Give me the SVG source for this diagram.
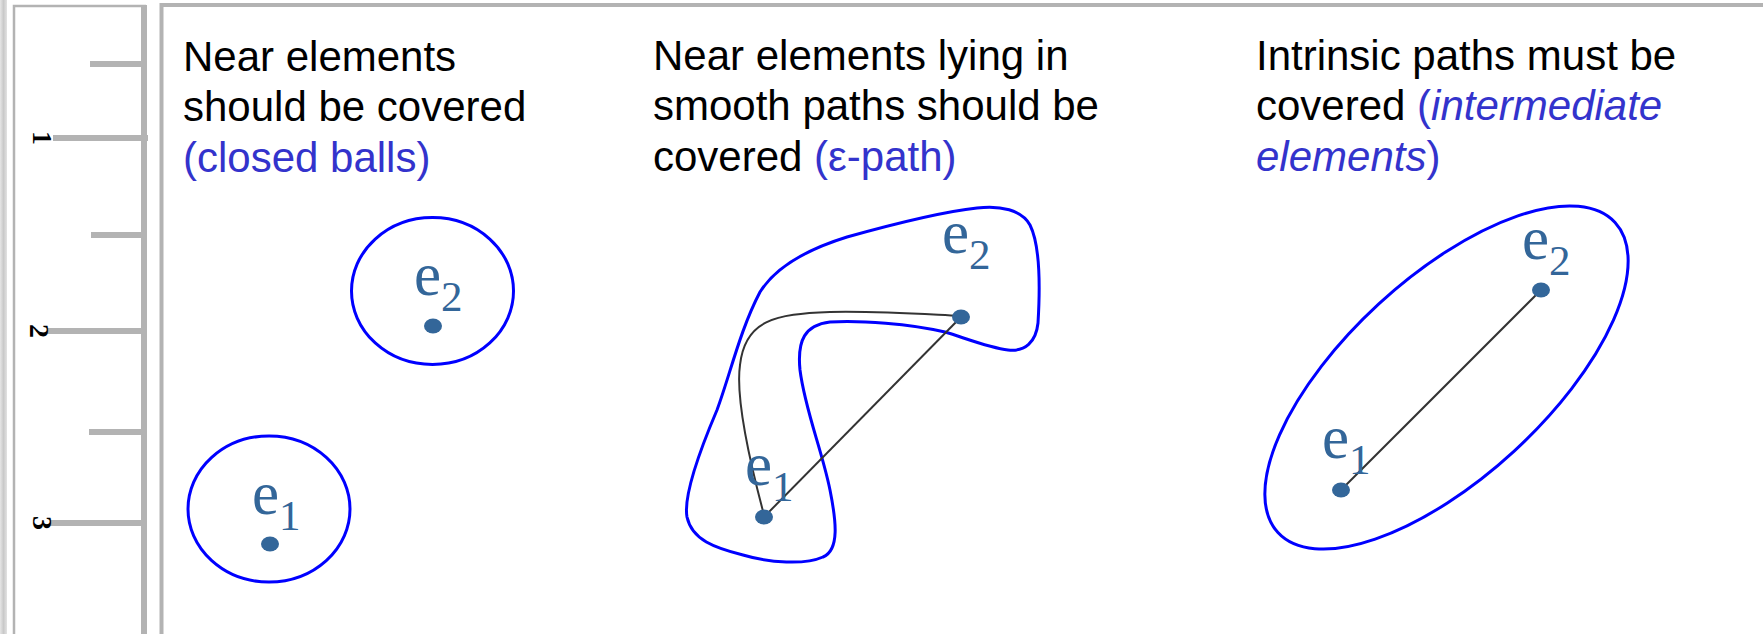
<svg xmlns="http://www.w3.org/2000/svg" width="1763" height="634" viewBox="0 0 1763 634">
<defs>
<linearGradient id="strip" x1="0" y1="0" x2="1" y2="0">
<stop offset="0" stop-color="#e6e6e6"/>
<stop offset="0.5" stop-color="#c9c9c9"/>
<stop offset="1" stop-color="#e2e2e2"/>
</linearGradient>
</defs>
<style>
.frame{stroke:#b3b3b3;fill:none}
.tick{stroke:#b3b3b3;stroke-width:6}
.num{font-family:"Liberation Serif",serif;font-size:28px;font-weight:bold;fill:#000;text-anchor:middle}
.title{font-family:"Liberation Sans",Arial,sans-serif;font-size:42px;fill:#000}
.blue{fill:#3333cc}
.it{font-style:italic}
.cover{fill:none;stroke:#0000ff;stroke-width:3}
.dot{fill:#336699}
.lbl{font-family:"Liberation Serif","Times New Roman",serif;font-size:61px;fill:#336699}
.sub{font-size:43px}
.link{fill:none;stroke:#333333;stroke-width:2}
</style>
<rect width="1763" height="634" fill="#ffffff"/>
<g id="ruler">
<rect x="0" y="0" width="7" height="634" fill="url(#strip)"/>
<path class="frame" stroke-width="2.5" d="M14 634 V6 H146"/>
<line class="frame" stroke-width="6" x1="144" y1="5" x2="144" y2="634"/>
<line class="tick" x1="90" y1="64" x2="144" y2="64"/>
<line class="tick" x1="53" y1="138" x2="148" y2="138"/>
<line class="tick" x1="91" y1="235" x2="144" y2="235"/>
<line class="tick" x1="47" y1="331" x2="141" y2="331"/>
<line class="tick" x1="89" y1="432" x2="144" y2="432"/>
<line class="tick" x1="50" y1="523" x2="144" y2="523"/>
<text class="num" transform="translate(33,138) rotate(90)">1</text>
<text class="num" transform="translate(30,331) rotate(90)">2</text>
<text class="num" transform="translate(33,523) rotate(90)">3</text>
</g>
<path id="panel-frame" class="frame" stroke-width="4" d="M161.5 634 V5 H1763"/>
<g id="panel1">
<text class="title" x="183" y="71">Near elements</text>
<text class="title" x="183" y="121">should be covered</text>
<text class="title blue" x="183" y="172">(closed balls)</text>
<g id="ball-e2">
<ellipse class="cover" cx="432.5" cy="291" rx="81" ry="73.5"/>
<ellipse class="dot" cx="433" cy="326" rx="9" ry="7.5"/>
<text class="lbl" x="414" y="295">e<tspan class="sub" dy="16">2</tspan></text>
</g>
<g id="ball-e1">
<ellipse class="cover" cx="269" cy="509" rx="81" ry="73"/>
<ellipse class="dot" cx="270" cy="544" rx="9" ry="7.5"/>
<text class="lbl" x="252" y="514">e<tspan class="sub" dy="16">1</tspan></text>
</g>
</g>
<g id="panel2">
<text class="title" x="653" y="70">Near elements lying in</text>
<text class="title" x="653" y="120">smooth paths should be</text>
<text class="title" x="653" y="171">covered <tspan class="blue">(ε-path)</tspan></text>
<path id="eps-path" class="cover" d="M977 208 C1000 205 1022 210 1030 225 C1040 245 1040 290 1038 323 C1036 342 1025 352 1008 350 C990 348 965 338 945 332 C910 324 860 320 830 322 C805 325 797 340 800 370 C805 410 822 450 830 490 C836 520 840 550 823 557 C805 565 770 563 743 555 C715 548 692 540 687 517 C683 495 700 450 717 410 C730 375 740 330 760 292 C775 268 805 250 847 237 C890 225 940 212 977 208 Z"/>
<g id="connectors2">
<path class="link" d="M764 515 C752 470 735 400 740 365 C745 320 775 314 830 312 C880 311 920 314 960 316"/>
<line class="link" x1="764" y1="517" x2="961" y2="317"/>
</g>
<g id="p2-e2">
<ellipse class="dot" cx="961" cy="317" rx="9" ry="7.5"/>
<text class="lbl" x="942" y="253">e<tspan class="sub" dy="16">2</tspan></text>
</g>
<g id="p2-e1">
<ellipse class="dot" cx="764" cy="517" rx="9" ry="7.5"/>
<text class="lbl" x="745" y="485">e<tspan class="sub" dy="16">1</tspan></text>
</g>
</g>
<g id="panel3">
<text class="title" x="1256" y="70">Intrinsic paths must be</text>
<text class="title" x="1256" y="120">covered <tspan class="blue">(<tspan class="it">intermediate</tspan></tspan></text>
<text class="title blue" x="1256" y="171"><tspan class="it">elements</tspan>)</text>
<ellipse id="intermediate" class="cover" cx="1446.5" cy="377.5" rx="229" ry="100" transform="rotate(-42.6 1446.5 377.5)"/>
<g id="connectors3">
<line class="link" x1="1341" y1="490" x2="1541" y2="290"/>
</g>
<g id="p3-e2">
<ellipse class="dot" cx="1541" cy="290" rx="9" ry="7.5"/>
<text class="lbl" x="1522" y="259">e<tspan class="sub" dy="16">2</tspan></text>
</g>
<g id="p3-e1">
<ellipse class="dot" cx="1341" cy="490" rx="9" ry="7.5"/>
<text class="lbl" x="1322" y="458">e<tspan class="sub" dy="16">1</tspan></text>
</g>
</g>
</svg>
